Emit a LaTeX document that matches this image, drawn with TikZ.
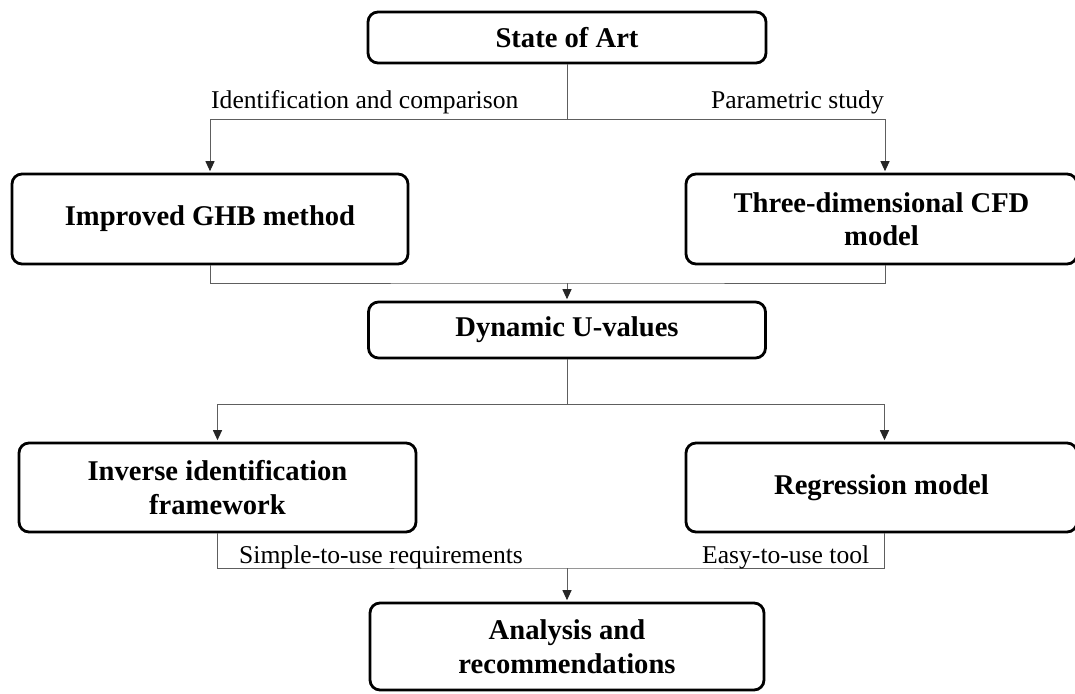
\documentclass[tikz,border=0pt]{standalone}
\usepackage{fontspec}
\setmainfont{Liberation Serif}
\usetikzlibrary{arrows.meta,calc}
\definecolor{conncol}{HTML}{5E5E5E}
\tikzset{
  box/.style={draw=black, line width=2.8pt, rounded corners=10pt, align=center,
    font=\fontsize{28.6}{33.5}\selectfont\bfseries, inner sep=0pt},
  conn/.style={draw=conncol, line width=1pt},
  arr/.style={conn, -{Triangle[length=10pt,width=9pt,color=black!85]}, shorten >=1.4pt},
  lbl/.style={font=\fontsize{25.6}{30}\selectfont, inner sep=0pt}
}
\begin{document}
\begin{tikzpicture}[x=1pt,y=-1pt]
\useasboundingbox (0,0) rectangle (1075,693);
% boxes
\node[box, minimum width=398, minimum height=51] (sota) at (567,37.5) {State of Art};
\node[box, minimum width=396, minimum height=90] (ghb) at (210,219) {Improved GHB method};
\node[box, minimum width=391, minimum height=90] (cfd) at (881.5,219) {Three-dimensional CFD\\model};
\node[box, minimum width=397, minimum height=56] (dyn) at (567,330) {Dynamic U-values};
\node[box, minimum width=397, minimum height=89] (inv) at (217.5,487.5) {Inverse identification\\framework};
\node[box, minimum width=391, minimum height=89] (reg) at (881.5,487.5) {Regression model};
\node[box, minimum width=394, minimum height=87] (ana) at (567,646.5) {Analysis and\\recommendations};
% junction coordinates
\coordinate (s1) at (567,119);
\coordinate (m1) at (567,283);
\coordinate (s2) at (567,404);
\coordinate (m2) at (567,568);
\coordinate (cfdin) at ([xshift=3.5pt]cfd.north);
\coordinate (cfdout) at ([xshift=3.5pt]cfd.south);
\coordinate (regin) at ([xshift=3pt]reg.north);
\coordinate (regout) at ([xshift=3pt]reg.south);
% connectors
\draw[conn] (sota.south) -- (s1);
\draw[arr] (s1) -| (ghb.north);
\draw[arr] (s1) -| (cfdin);
\draw[conn] (ghb.south) |- (m1) -| (cfdout);
\draw[arr] (m1) -- (dyn.north);
\draw[conn] (dyn.south) -- (s2);
\draw[arr] (s2) -| (inv.north);
\draw[arr] (s2) -| (regin);
\draw[conn] (inv.south) |- (m2) -| (regout);
\draw[arr] (m2) -- (ana.north);
% labels
\node[lbl, anchor=base west] (l1) at (211,108) {Identification and comparison};
\node[lbl, anchor=base east] (l2) at (884,108) {Parametric study};
\node[lbl, anchor=base west] (l3) at (239,563) {Simple-to-use requirements};
\node[lbl, anchor=base west] (l4) at (702,563) {Easy-to-use tool};
\end{tikzpicture}
\end{document}
